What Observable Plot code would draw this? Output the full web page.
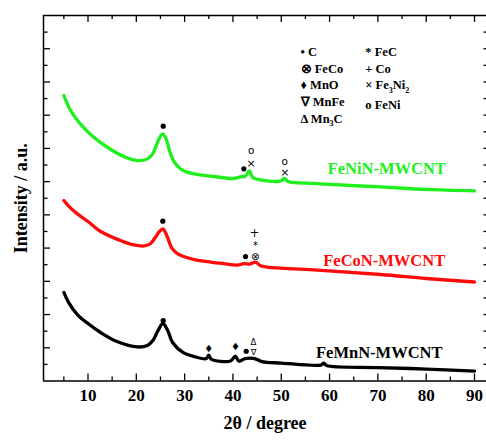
<!DOCTYPE html>
<html><head><meta charset="utf-8">
<script src="https://cdn.jsdelivr.net/npm/d3@7"></script>
<script src="https://cdn.jsdelivr.net/npm/@observablehq/plot@0.6"></script>
<style>body{margin:0;background:#fff}</style>
</head><body><div id="chart"></div>
<script>
// 2θ (degree) and stacked intensity (a.u.)
const xGreen = [5,6.4,8.4,11.2,14,17.4,20.2,22.3,23.3,24,24.8,25.5,26.2,27,27.8,29.2,30.5,33.3,36,40,41.5,42.6,43.4,44.1,45.7,49.9,50.7,51.4,56.7,60,70.6,80,90];
const yGreen = [17.18,16.28,15.48,14.67,14.07,13.51,13.27,13.37,13.63,14.07,14.63,14.88,14.54,13.75,13.21,12.76,12.57,12.40,12.31,12.19,12.28,12.34,12.64,12.25,12.11,12.04,12.19,12.01,11.89,11.83,11.68,11.53,11.44];
const xRed = [5,6,7.8,10,12.6,16.7,19.5,21.6,22.9,24,24.8,25.5,26.3,27.4,28.5,29.8,32,35.4,38,41,42.3,43.5,44.7,45.6,47.1,56.7,70.6,80,90];
const yRed = [10.86,10.53,10.06,9.60,9.00,8.46,8.19,8.13,8.26,8.67,9.00,9.16,8.76,7.98,7.67,7.49,7.31,7.16,7.07,6.98,7.07,7.04,7.16,6.95,6.86,6.69,6.41,6.17,5.96];
const xBlack = [5,6,7.8,10,12.6,16,20.2,22.3,23.5,24.5,25.5,26.5,27.5,29.8,32,34.5,35,35.5,39.5,40.5,41.2,42.5,43.5,44.5,46,50,58.2,58.8,59.4,70,80,90];
const yBlack = [5.33,4.72,4.00,3.46,2.92,2.38,2.05,2.14,2.47,3.04,3.46,3.04,2.32,1.69,1.47,1.35,1.56,1.32,1.20,1.50,1.20,1.35,1.38,1.35,1.17,1.08,0.96,1.08,0.93,0.81,0.72,0.60];

const seriesNames = ["FeNiN-MWCNT","FeCoN-MWCNT","FeMnN-MWCNT"];
const seriesColors = ["#1ef01e","#ff0a0a","#000000"];
const labelX = [59.6,58.7,57.2];
const labelY = [12.77,7.21,1.73];

// phase markers on the patterns
const markSym  = ["•","•","×","o","×","o", "•","•","⊗","*","+", "•","♦","♦","•","Δ","∇"];
const markX    = [25.57,42.25,43.78,43.78,50.73,50.73, 25.48,42.6,44.67,44.67,44.46, 25.57,35.0,40.53,42.75,44.26,44.26];
const markY    = [15.34,12.77,13.11,13.88,12.53,13.18, 9.62,7.49,7.49,8.12,8.88, 3.64,1.94,2.03,1.79,2.36,1.73];
const markSize = [12,12,11,10.5,11,10.5, 12,12,10.5,10,11.5, 12,10,10,12,8.5,8.5];

// key
const keyText = ["• C","⊗ FeCo","♦ MnO","∇ MnFe","Δ Mn3C","* FeC","+ Co","× Fe3Ni2","o FeNi"];
const keyX = [54.0,54.0,54.0,54.0,54.0,67.4,67.4,67.4,67.4];
const keyY = [19.79,18.79,17.79,16.78,15.78,19.79,18.79,17.79,16.64];

const xTickLabels = [10,20,30,40,50,60,70,80,90];
const xTicksAll = d3.range(5, 95, 5);
const yTicksAll = d3.range(1, 22, 1);

const X0 = 0.79, X1 = 92.48, Y0 = 0, Y1 = 22;
const W = 486, H = 440, mL = 43, mR = 0, mT = 15, mB = 59.5;
const ux = (X1 - X0) / (W - mL - mR);
const uy = (Y1 - Y0) / (H - mT - mB);

const lines = [];
[[xGreen,yGreen],[xRed,yRed],[xBlack,yBlack]].forEach(([xs,ys],i)=>xs.forEach((x,j)=>lines.push({s:seriesNames[i],x,y:ys[j]})));
const marks = markSym.map((s,i)=>({s,x:markX[i],y:markY[i],fs:markSize[i]}));
const dots = marks.filter(d=>d.s==="•");
const syms = marks.filter(d=>d.s!=="•");
const keys = keyText.map((t,i)=>({t,x:keyX[i],y:keyY[i]}));
const serif = "'Liberation Serif','Times New Roman',serif";

const tlen = d => (d % 10 === 0 ? 7 : 4);
const ylen = d => (d % 2 === 0 ? 7 : 4.5);

const chart = Plot.plot({
  width: W, height: H, marginLeft: mL, marginRight: mR, marginTop: mT, marginBottom: mB,
  x: {domain: [X0, X1], axis: null, label: null},
  y: {domain: [Y0, Y1], axis: null, label: null},
  color: {domain: seriesNames, range: seriesColors},
  style: {fontFamily: serif, background: "#fff", overflow: "visible"},
  marks: [
    Plot.line(lines, {x:"x", y:"y", z:"s", stroke:"s", strokeWidth: 3.3, curve: "catmull-rom"}),
    Plot.ruleX(xTicksAll, {x: d=>d, y1: Y0, y2: d=>tlen(d)*uy, stroke:"#000", strokeWidth:1.3}),
    Plot.ruleX(xTicksAll, {x: d=>d, y1: Y1, y2: d=>Y1 - tlen(d)*uy, stroke:"#000", strokeWidth:1.3}),
    Plot.ruleY(yTicksAll, {y: d=>d, x1: X0, x2: d=>X0 + ylen(d)*ux, stroke:"#000", strokeWidth:1.3}),
    Plot.ruleY(yTicksAll, {y: d=>d, x1: X1 - 2.5*ux, x2: X1, stroke:"#000", strokeWidth:1.3}),
    Plot.ruleX([X0], {stroke:"#000", strokeWidth:1.5}),
    Plot.ruleY([Y0, Y1], {stroke:"#000", strokeWidth:1.5}),
    Plot.axisX(xTickLabels, {tickSize: 0, tickPadding: 8, fontSize: 17, fontWeight: "bold", fill: "#000", label: null}),
    Plot.dot(dots, {x:"x", y:"y", r: 2.6, fill:"#000", stroke:"none"}),
    Plot.text(syms, {x:"x", y:"y", text:"s", fontSize: d=>d.fs, fill:"#000", fontFamily: "'DejaVu Sans',sans-serif"}),
    Plot.text(seriesNames, {x:(d,i)=>labelX[i], y:(d,i)=>labelY[i], text:d=>d, fill:(d,i)=>seriesColors[i], textAnchor:"start", fontSize: 16.5, fontWeight:"bold"}),
    Plot.text(keys, {x:"x", y:"y", text:"t", textAnchor:"start", fontSize: 12.5, fontWeight:"bold", fill:"#000", className:"key"}),
    Plot.text(["2θ / degree"], {frameAnchor:"bottom", dy: 47.5, fontSize: 18, fontWeight:"bold", fill:"#000"}),
    Plot.text(["Intensity / a.u."], {frameAnchor:"left", textAnchor:"middle", lineAnchor:"middle", rotate:-90, dx:-22, dy:0, fontSize: 18, fontWeight:"bold", fill:"#000"})
  ]
});

// subscripts in the key (Mn3C, Fe3Ni2)
chart.querySelectorAll("g.key text").forEach(t => {
  const s = t.textContent;
  if (!/\d/.test(s)) return;
  t.textContent = "";
  const parts = s.split(/(\d)/).filter(p=>p!=="");
  let low = false;
  const ns = "http://www.w3.org/2000/svg";
  parts.forEach(p => {
    const sp = document.createElementNS(ns, "tspan");
    const isD = /^\d$/.test(p);
    if (isD && !low) { sp.setAttribute("dy", "3.5"); low = true; }
    else if (!isD && low) { sp.setAttribute("dy", "-3.5"); low = false; }
    if (isD) sp.setAttribute("font-size", "8");
    sp.textContent = p;
    t.appendChild(sp);
  });
});
document.getElementById("chart").appendChild(chart);
</script>
</body></html>
